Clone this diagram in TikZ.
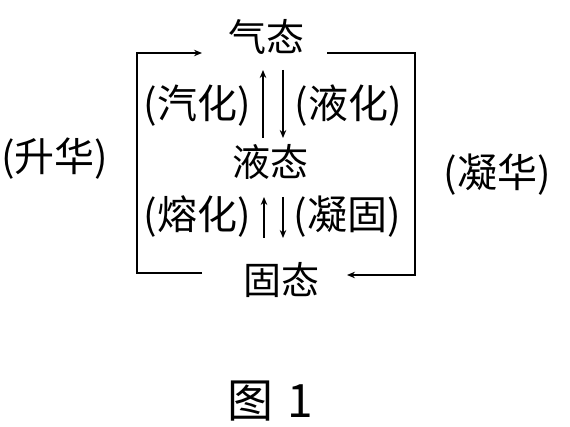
\documentclass[tikz,border=0pt]{standalone}
\usepackage{fontspec}
\newfontfamily\cjk{Noto Sans CJK SC}
\usetikzlibrary{arrows.meta}
\begin{document}
\begin{tikzpicture}[x=1pt,y=-1pt,
  lab/.style={font=\cjk\fontsize{40}{40}\selectfont, inner sep=0pt},
  st/.style={font=\cjk\fontsize{38}{38}\selectfont, inner sep=0pt},
  ln/.style={line width=2.8pt, black},
  arr/.style={ln, -{Stealth[length=8pt,width=6.5pt]}}]
\useasboundingbox (0,0) rectangle (570,427);
% states
\node[st] (gas) at (266,37) {气态};
\node[st] (liq) at (270,162) {液态};
\node[st] (sol) at (281,280) {固态};
% process labels
\node[lab] (qh) at (197,106) {(汽化)};
\node[lab] (yh) at (348,106) {(液化)};
\node[lab] (rh) at (197,217) {(熔化)};
\node[lab] (ng) at (347,217) {(凝固)};
\node[lab] (sh) at (55,159) {(升华)};
\node[lab] (nh) at (497,175) {(凝华)};
\node[font=\cjk\fontsize{46}{46}\selectfont, inner sep=0pt] (fig) at (270,401) {图\hspace{14pt}1};
% connector end points
\coordinate (a1) at (263,138); \coordinate (a2) at (263,70);
\coordinate (b1) at (283,70);  \coordinate (b2) at (283,138);
\coordinate (c1) at (264,238); \coordinate (c2) at (264,197);
\coordinate (d1) at (283,197); \coordinate (d2) at (283,238);
\coordinate (sl) at (202,273); \coordinate (gl) at (202,53);
\coordinate (gr) at (327,53);  \coordinate (sr) at (347,275);
% vertical arrows
\draw[arr] (a1) -- (a2);
\draw[arr] (b1) -- (b2);
\draw[arr] (c1) -- (c2);
\draw[arr] (d1) -- (d2);
% sublimation / deposition brackets
\draw[arr] (sl) -- (137,273) -- (137,53) -- (gl);
\draw[arr] (gr) -- (415,53) -- (415,275) -- (sr);
\end{tikzpicture}
\end{document}
